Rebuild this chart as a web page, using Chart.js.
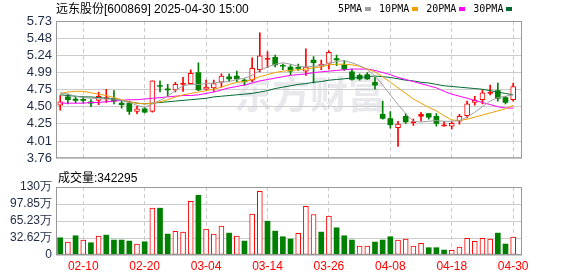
<!DOCTYPE html>
<html>
<head>
<meta charset="utf-8">
<script src="https://cdn.jsdelivr.net/npm/chart.js@4.4.1/dist/chart.umd.min.js"></script>
<style>
body { margin: 0; background: #fff; width: 578px; height: 276px; position: relative; overflow: hidden;
       font-family: "Liberation Sans", "Noto Sans CJK SC", sans-serif; }
canvas { position: absolute; left: 0; }
#kline { top: 0; }
#vol { top: 165px; }
#title { position: absolute; left: 56px; top: 1px; font-size: 12px; line-height: 16px; white-space: nowrap; z-index: 2; }
#legend { position: absolute; left: 338px; top: 3px; font: 10px/12px "DejaVu Sans Mono", monospace; white-space: nowrap; display: flex; align-items: center; z-index: 2; }
#legend i { display: inline-block; width: 6px; height: 4px; margin: 0 8px 0 3px; }
#volLabel { position: absolute; left: 58px; top: 170px; font-size: 12px; line-height: 16px; white-space: nowrap; z-index: 2; }
</style>
</head>
<body>
<div id="title">远东股份[600869] 2025-04-30 15:00</div>
<div id="legend"></div>
<div id="volLabel"></div>
<canvas id="kline" width="578" height="170"></canvas>
<canvas id="vol" width="578" height="111"></canvas>
<script>
// trading days shown
const dates = ['02-05','02-06','02-07','02-10','02-11','02-12','02-13','02-14','02-17','02-18',
  '02-19','02-20','02-21','02-24','02-25','02-26','02-27','02-28','03-03','03-04',
  '03-05','03-06','03-07','03-10','03-11','03-12','03-13','03-14','03-17','03-18',
  '03-19','03-20','03-21','03-24','03-25','03-26','03-27','03-28','03-31','04-01',
  '04-02','04-03','04-07','04-08','04-09','04-10','04-11','04-14','04-15','04-16',
  '04-17','04-18','04-21','04-22','04-23','04-24','04-25','04-28','04-29','04-30'];

const open = [4.52,4.64,4.61,4.60,4.57,4.59,4.61,4.62,4.55,4.55,
  4.43,4.47,4.43,4.80,4.75,4.74,4.82,4.83,4.99,4.75,
  4.77,4.85,4.93,4.94,4.88,4.88,5.03,5.18,5.21,5.09,
  5.07,5.06,5.01,5.17,5.08,5.12,5.19,5.10,5.00,4.95,
  4.96,4.85,4.39,4.33,4.20,4.36,4.27,4.36,4.40,4.36,
  4.22,4.22,4.29,4.37,4.56,4.60,4.69,4.73,4.63,4.60];
const high = [4.66,4.68,4.64,4.64,4.60,4.71,4.75,4.73,4.58,4.58,
  4.51,4.49,4.87,4.87,4.82,4.85,4.92,5.03,5.13,4.88,
  4.88,4.97,4.97,5.01,4.90,5.20,5.56,5.29,5.24,5.11,
  5.10,5.11,5.33,5.22,5.17,5.30,5.24,5.16,5.04,4.97,
  4.99,4.92,4.58,4.43,4.29,4.40,4.32,4.42,4.40,4.40,
  4.29,4.29,4.39,4.58,4.65,4.74,4.81,4.84,4.65,4.84];
const low = [4.45,4.54,4.55,4.55,4.50,4.53,4.56,4.54,4.48,4.39,
  4.40,4.41,4.42,4.71,4.65,4.71,4.72,4.82,4.73,4.74,
  4.72,4.78,4.86,4.86,4.81,4.86,5.00,5.06,5.07,5.03,
  4.96,5.02,4.95,4.84,5.03,5.04,5.09,5.02,4.88,4.88,
  4.89,4.75,4.32,4.19,3.93,4.26,4.23,4.29,4.32,4.22,
  4.22,4.18,4.25,4.34,4.52,4.54,4.67,4.58,4.54,4.58];
const close = [4.57,4.60,4.59,4.59,4.55,4.65,4.63,4.58,4.53,4.43,
  4.47,4.42,4.87,4.79,4.74,4.82,4.83,4.98,4.74,4.78,
  4.83,4.94,4.90,4.90,4.86,5.05,5.23,5.19,5.10,5.08,
  5.01,5.05,5.07,5.13,5.11,5.28,5.17,5.04,4.89,4.90,
  4.90,4.81,4.33,4.24,4.25,4.28,4.28,4.39,4.35,4.26,
  4.24,4.26,4.36,4.54,4.59,4.70,4.71,4.62,4.56,4.79];
const prevClose = 4.60; // close of the day before the first bar

const ma5 = [4.70,4.68,4.65,4.63,4.62,4.62,4.61,4.61,4.59,4.56,
  4.52,4.49,4.54,4.59,4.65,4.73,4.80,4.82,4.82,4.83,
  4.84,4.85,4.86,4.89,4.91,4.95,5.02,5.07,5.11,5.13,
  5.11,5.08,5.07,5.08,5.09,5.12,5.15,5.16,5.13,5.09,
  5.03,4.94,4.81,4.67,4.53,4.40,4.29,4.28,4.29,4.30,
  4.29,4.29,4.30,4.35,4.42,4.50,4.58,4.63,4.65,4.67];
const ma10 = [4.69,4.71,4.72,4.72,4.70,4.68,4.66,4.63,4.60,4.57,
  4.55,4.54,4.55,4.57,4.60,4.64,4.67,4.69,4.71,4.73,
  4.75,4.78,4.82,4.85,4.86,4.89,4.93,4.96,4.99,5.01,
  5.02,5.03,5.04,5.06,5.07,5.10,5.11,5.11,5.10,5.08,
  5.04,5.00,4.93,4.85,4.77,4.69,4.61,4.55,4.49,4.44,
  4.37,4.31,4.30,4.32,4.35,4.38,4.41,4.44,4.47,4.52];
const ma20 = [4.55,4.55,4.55,4.55,4.56,4.56,4.57,4.58,4.59,4.60,
  4.60,4.61,4.62,4.63,4.64,4.65,4.66,4.66,4.67,4.69,
  4.71,4.74,4.77,4.79,4.81,4.84,4.87,4.89,4.91,4.93,
  4.95,4.96,4.97,4.99,5.00,5.01,5.02,5.03,5.04,5.04,
  5.04,5.02,4.99,4.96,4.92,4.89,4.86,4.83,4.80,4.77,
  4.72,4.68,4.65,4.62,4.59,4.56,4.53,4.50,4.48,4.48];
const ma30 = [4.67,4.66,4.65,4.64,4.64,4.63,4.62,4.61,4.59,4.57,
  4.55,4.54,4.55,4.56,4.57,4.58,4.59,4.60,4.61,4.62,
  4.64,4.65,4.66,4.67,4.68,4.69,4.71,4.73,4.76,4.78,
  4.80,4.82,4.83,4.85,4.86,4.88,4.89,4.90,4.91,4.92,
  4.93,4.94,4.93,4.92,4.90,4.88,4.87,4.85,4.84,4.82,
  4.80,4.79,4.78,4.77,4.76,4.75,4.73,4.71,4.69,4.67];

const volume = [330000,248000,369000,287000,235000,363000,382000,287000,287000,267000,
  210000,254000,898000,898000,401000,453000,439000,1031000,1146000,497000,
  401000,554000,420000,363000,267000,783000,1222000,649000,458000,350000,
  306000,414000,936000,777000,439000,745000,522000,369000,287000,172000,
  172000,248000,287000,350000,287000,306000,172000,223000,140000,140000,
  95000,90000,153000,319000,262000,319000,306000,420000,210000,342295];

const priceTicks = ['3.76','4.01','4.25','4.50','4.75','4.99','5.24','5.48','5.73'];
const volTicks = ['0','32.62万','65.23万','97.85万','130万'];
const volMax = 1304600;
const dateTicks = ['02-10','02-20','03-04','03-14','03-26','04-08','04-18','04-30'];

const maNames = ['5PMA','10PMA','20PMA','30PMA'];
const maColors = ['#a0a0a0','#f0a000','#ff00ff','#006a32'];
const maSeries = [ma5, ma10, ma20, ma30];

const RED = '#ff0000', GREEN = '#008000';
const dateIdx = dateTicks.map(d => dates.indexOf(d));
const upDay = close.map((c, i) => c >= open[i]);
const upVol = close.map((c, i) => c >= (i ? close[i - 1] : prevClose));

// legend + volume label
var legend = document.getElementById('legend');
maNames.forEach(function(n, k) {
    legend.insertAdjacentHTML('beforeend', '<span>' + n + '</span><i style="background:' + maColors[k] + '"></i>');
});
document.getElementById('volLabel').textContent = '成交量:' + volume[volume.length - 1];

const frame = {
    id: 'frame',
    afterDraw(chart) {
        const {ctx, chartArea: a} = chart;
        ctx.save();
        ctx.strokeStyle = '#999';
        ctx.lineWidth = 1;
        ctx.strokeRect(a.left + 0.5, a.top + 0.5, a.right - a.left - 1, a.bottom - a.top - 1);
        ctx.restore();
    }
};

const watermark = {
    id: 'watermark',
    beforeDatasetsDraw(chart) {
        const ctx = chart.ctx;
        ctx.save();
        ctx.fillStyle = 'rgba(205,205,215,0.45)';
        ctx.font = 'bold 38px "Noto Sans CJK SC"';
        ctx.textAlign = 'center';
        ctx.textBaseline = 'middle';
        ctx.fillText('东方财富', 310, 94);
        ctx.restore();
    }
};

const xRange = {min: -0.55, max: 60.15};
const tickFont = {family: 'Liberation Sans', size: 13};

new Chart(document.getElementById('kline'), {
    type: 'bar',
    data: {
        datasets: [
            ...maSeries.map((s, k) => ({
                type: 'line',
                data: s.map((v, i) => ({x: i, y: v})),
                borderColor: maColors[k],
                borderWidth: 1,
                pointRadius: 0,
                tension: 0,
                order: 0
            })),
            {
                data: dates.map((d, i) => ({x: i, y: [open[i], close[i]]})),
                barThickness: 5,
                grouped: false,
                minBarLength: 1,
                borderSkipped: false,
                backgroundColor: dates.map((d, i) => upDay[i] ? (Math.abs(close[i] - open[i]) < 0.03 ? RED : '#fff') : GREEN),
                borderColor: dates.map((d, i) => upDay[i] ? RED : GREEN),
                borderWidth: dates.map((d, i) => upDay[i] ? 1 : 0),
                order: 2
            },
            {
                data: dates.map((d, i) => ({x: i, y: [low[i], high[i]]})),
                barThickness: 1,
                grouped: false,
                backgroundColor: dates.map((d, i) => upDay[i] ? RED : GREEN),
                order: 3
            }
        ]
    },
    options: {
        responsive: false,
        animation: false,
        devicePixelRatio: 1,
        layout: {padding: {left: 0, right: 56, top: 21, bottom: 5}},
        plugins: {legend: {display: false}, tooltip: {enabled: false}},
        scales: {
            x: {
                type: 'linear', min: xRange.min, max: xRange.max, offset: false,
                afterBuildTicks: axis => { axis.ticks = dateIdx.map(v => ({value: v})); },
                afterFit: axis => { axis.height = 0; },
                ticks: {display: false},
                grid: {color: '#cccccc', drawTicks: false, offset: false},
                border: {display: false, dash: [4, 3]}
            },
            y: {
                min: Number(priceTicks[0]), max: Number(priceTicks[priceTicks.length - 1]),
                afterBuildTicks: axis => {
                    const lo = axis.min, step = (axis.max - axis.min) / (priceTicks.length - 1);
                    axis.ticks = priceTicks.map((t, k) => ({value: lo + k * step}));
                },
                afterFit: axis => { axis.width = 56; },
                ticks: {callback: (v, k) => priceTicks[k], autoSkip: false, font: tickFont, color: '#1f2a44', padding: 4},
                grid: {color: '#cccccc', drawTicks: false},
                border: {display: false}
            }
        }
    },
    plugins: [watermark, frame]
});

new Chart(document.getElementById('vol'), {
    type: 'bar',
    data: {
        datasets: [{
            data: volume.map((v, i) => ({x: i, y: v})),
            barThickness: 5,
            borderSkipped: false,
            backgroundColor: volume.map((v, i) => upVol[i] ? '#fff' : GREEN),
            borderColor: volume.map((v, i) => upVol[i] ? RED : GREEN),
            borderWidth: volume.map((v, i) => upVol[i] ? 1 : 0)
        }]
    },
    options: {
        responsive: false,
        animation: false,
        devicePixelRatio: 1,
        layout: {padding: {left: 0, right: 56, top: 22, bottom: 0}},
        plugins: {legend: {display: false}, tooltip: {enabled: false}},
        scales: {
            x: {
                type: 'linear', min: xRange.min, max: xRange.max, offset: false,
                afterBuildTicks: axis => { axis.ticks = dateIdx.map(v => ({value: v})); },
                afterFit: axis => { axis.height = 21; },
                ticks: {callback: (v, k) => dateTicks[k], autoSkip: false, maxRotation: 0,
                        font: {family: 'Liberation Sans', size: 12}, color: RED, padding: 4},
                grid: {color: '#cccccc', drawTicks: false, offset: false},
                border: {display: false, dash: [4, 3]}
            },
            y: {
                min: 0, max: volMax,
                afterBuildTicks: axis => {
                    axis.ticks = volTicks.map((t, k) => ({value: k * volMax / (volTicks.length - 1)}));
                },
                afterFit: axis => { axis.width = 56; },
                ticks: {callback: (v, k) => volTicks[k], autoSkip: false, font: {family: 'Liberation Sans', size: 12}, color: '#1f2a44', padding: 4},
                grid: {color: '#cccccc', drawTicks: false},
                border: {display: false}
            }
        }
    },
    plugins: [frame]
});
</script>
</body>
</html>
